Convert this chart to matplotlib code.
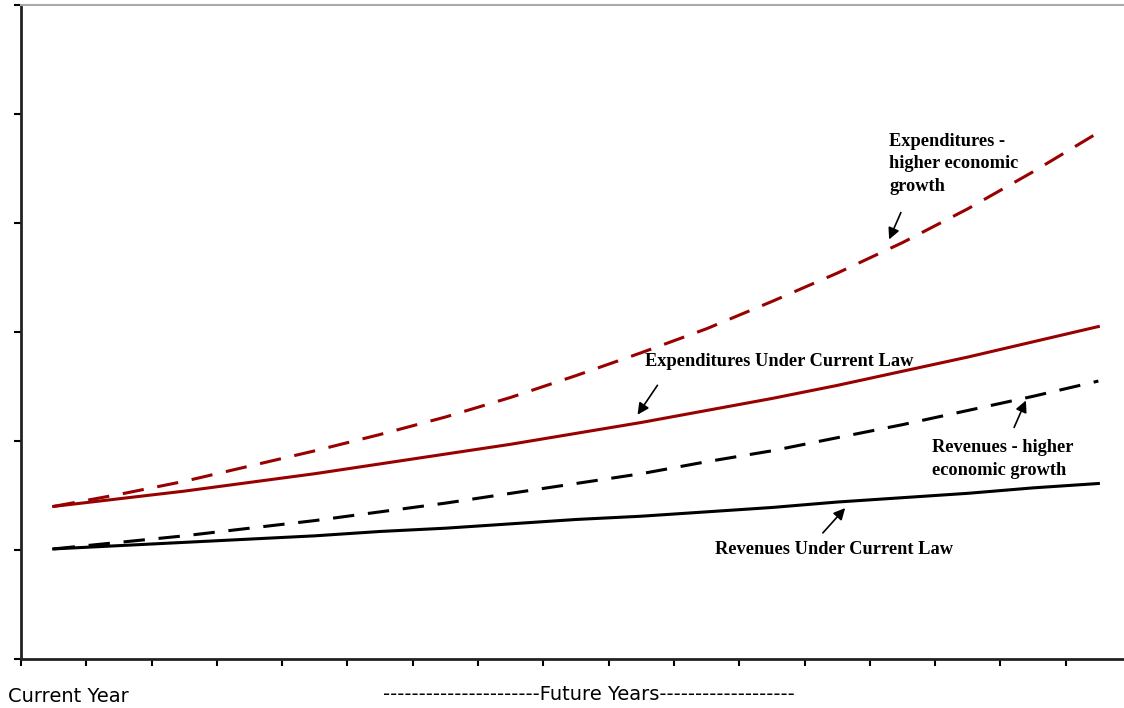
import matplotlib
matplotlib.use("Agg")
import matplotlib.pyplot as plt
import numpy as np

# years: current year + 16 future years (category axis)
periods = list(range(17))

exp_current_law = [14.0, 14.7, 15.4, 16.2, 17.0, 17.9, 18.8, 19.7, 20.7,
                   21.7, 22.8, 23.9, 25.1, 26.4, 27.7, 29.1, 30.5]
exp_high_growth = [14.0, 15.1, 16.3, 17.7, 19.1, 20.6, 22.2, 24.0, 26.0,
                   28.1, 30.3, 32.8, 35.4, 38.2, 41.3, 44.7, 48.3]
rev_high_growth = [10.1, 10.7, 11.3, 12.0, 12.7, 13.5, 14.3, 15.2, 16.1,
                   17.0, 18.1, 19.1, 20.3, 21.5, 22.8, 24.1, 25.5]
rev_current_law = [10.1, 10.4, 10.7, 11.0, 11.3, 11.7, 12.0, 12.4, 12.8,
                   13.1, 13.5, 13.9, 14.4, 14.8, 15.2, 15.7, 16.1]

red = '#990000'

fig = plt.figure(figsize=(11.24, 7.08), dpi=100)
ax = fig.add_axes([21 / 1124, 49 / 708, 1110 / 1124, 654 / 708])

ax.plot(periods, exp_high_growth, color=red, lw=2.2, linestyle=(0, (7, 4.5)))
ax.plot(periods, exp_current_law, color=red, lw=2.2)
ax.plot(periods, rev_high_growth, color='black', lw=2.2, linestyle=(0, (7, 4.5)))
ax.plot(periods, rev_current_law, color='black', lw=2.2)

ax.set_xlim(-0.5, 16.5)
ax.set_ylim(0, 60)
ax.set_xticks(np.arange(-0.5, 17, 1))
ax.set_yticks(np.arange(0, 61, 10))
ax.set_xticklabels([])
ax.set_yticklabels([])
ax.tick_params(direction='out', length=5, width=1.5, color='black')

for side in ['left', 'bottom']:
    ax.spines[side].set_linewidth(2)
    ax.spines[side].set_color('#222222')
ax.spines['top'].set_color('#aaaaaa')
ax.spines['top'].set_linewidth(1.5)
ax.spines['right'].set_visible(False)


def px(x, y):
    # figure pixel position (from top-left) to data coords
    inv = ax.transData.inverted()
    return tuple(inv.transform((x, 708 - y)))


lbl = dict(family='Liberation Serif', fontweight='bold', fontsize=13.2,
           color='black', va='center', ha='left', linespacing=1.45)
arrow = dict(arrowstyle='-|>', color='black', lw=1.2, mutation_scale=17)

ax.annotate('', xy=px(888, 242), xytext=px(902, 210), arrowprops=arrow)
ax.text(*px(889, 164), 'Expenditures -\nhigher economic\ngrowth', **lbl)

ax.annotate('', xy=px(636, 417), xytext=px(659, 383), arrowprops=arrow)
ax.text(*px(645, 362), 'Expenditures Under Current Law', **lbl)

ax.annotate('', xy=px(1027, 398), xytext=px(1013, 430), arrowprops=arrow)
ax.text(*px(932, 459), 'Revenues - higher\neconomic growth', **lbl)

ax.annotate('', xy=px(847, 506), xytext=px(821, 535), arrowprops=arrow)
ax.text(*px(715, 550), 'Revenues Under Current Law', **lbl)

fig.text(8 / 1124, 1 - 697 / 708, 'Current Year', fontsize=14,
         family='DejaVu Sans', va='center', ha='left')
fig.text(383 / 1124, 1 - 695 / 708,
         '-' * 22 + 'Future Years' + '-' * 19, fontsize=14,
         family='DejaVu Sans', va='center', ha='left')

fig.savefig('out.png', dpi=100)
